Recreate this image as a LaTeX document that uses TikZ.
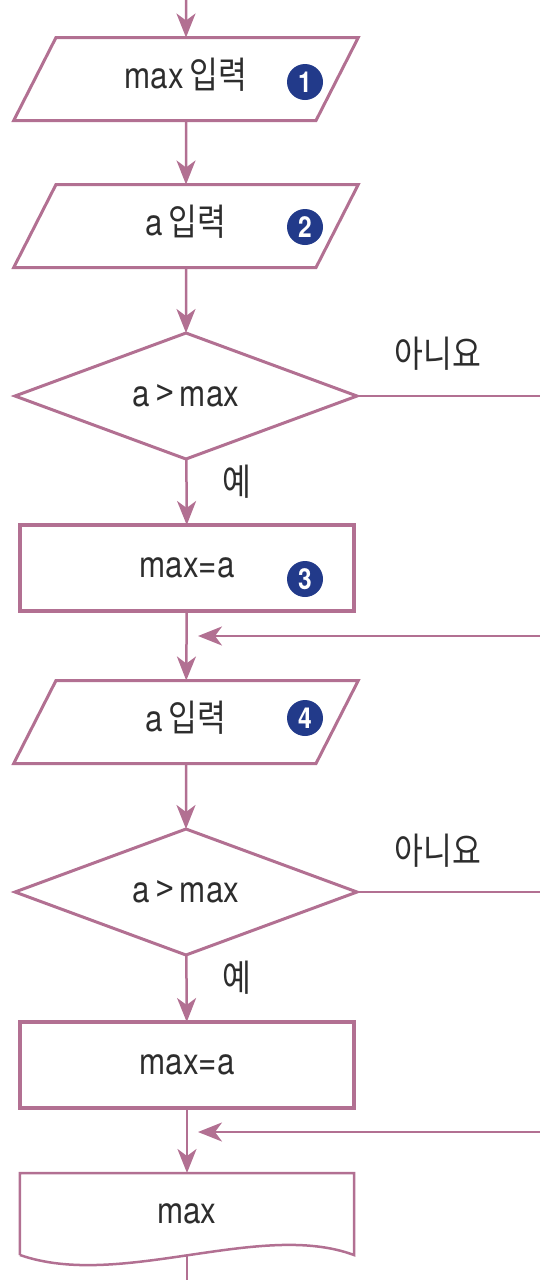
\documentclass[tikz,border=0pt]{standalone}
\usepackage{fontspec}
\setmainfont{TeX Gyre Heros}[FakeStretch=0.85]
\newfontfamily\krfont{Noto Sans CJK KR}[FakeStretch=0.85]
\newcommand{\hangul}[1]{{\krfont #1}}
\usetikzlibrary{shapes.geometric,arrows.meta}
\definecolor{flowline}{RGB}{178,112,146}
\definecolor{numblue}{RGB}{34,58,138}
\definecolor{flowtext}{RGB}{45,45,45}

\begin{document}
\begin{tikzpicture}[x=1bp,y=-1bp]
        \tikzset{every node/.style={font=\fontsize{37}{40}\selectfont,text=flowtext},
          inbox/.style={shape=trapezium,draw=flowline,line width=3bp,
            trapezium left angle=63,trapezium right angle=117,
            text width=256bp,align=center,text height=26bp,text depth=8bp,
            inner xsep=2bp,inner ysep=24.5bp,outer sep=0pt},
          condbox/.style={shape=diamond,draw=flowline,line width=3bp,aspect=2.71,
            minimum width=342bp,minimum height=126bp,inner sep=2pt,outer sep=0pt},
          setbox/.style={rectangle,draw=flowline,line width=4bp,
            minimum width=334bp,minimum height=86bp,outer sep=0pt},
          outbox/.style={rectangle,minimum width=334bp,minimum height=82bp,outer sep=0pt},
          numdot/.style={circle,fill=numblue,text=white,inner sep=0pt,minimum size=36bp,
            font=\fontsize{29}{29}\selectfont\bfseries},
          flow/.style={draw=flowline,line width=2.5bp,
            -{Stealth[length=24bp,width=19bp,inset=7bp]}},
          plain/.style={draw=flowline,line width=2.5bp}}
        \useasboundingbox (0,0) rectangle (540,1280);
        % boxes
        \node[inbox] (in1) at (186,79) {max\,\hangul{입력}};
        \node[numdot] (n1) at (305,82) {1};
        \node[inbox] (in2) at (186,226) {a\,\hangul{입력}};
        \node[numdot] (n2) at (305,227) {2};
        \node[condbox] (cond1) at (186,396) {a\,\hangul{>}\,max};
        \node[setbox] (set1) at (187,568) {max=a};
        \node[numdot] (n3) at (305,579) {3};
        \node[inbox] (in3) at (186,722) {a\,\hangul{입력}};
        \node[numdot] (n4) at (305,718) {4};
        \node[condbox] (cond2) at (186,892) {a\,\hangul{>}\,max};
        \node[setbox] (set2) at (187,1065) {max=a};
        \node[outbox] (out) at (187,1214) {max};
        \draw[flowline,line width=2.5bp] (out.south west) -- (out.north west)
          -- (out.north east) -- (out.south east)
          .. controls (260,1220) and (120,1290) .. (out.south west);
        % labels
        \node (no1) at (438,354) {\hangul{아니요}};
        \node (yes1) at (237,482) {\hangul{예}};
        \node (no2) at (438,851) {\hangul{아니요}};
        \node (yes2) at (237,978) {\hangul{예}};
        % connectors
        \coordinate (top) at (186,0);
        \coordinate (noend1) at (540,396);
        \coordinate (noin1) at (540,636);
        \coordinate (nojoin1) at (198,636);
        \coordinate (noend2) at (540,892);
        \coordinate (noin2) at (540,1132);
        \coordinate (nojoin2) at (198,1132);
        \coordinate (bottom) at (187,1280);
        \draw[flow] (top) -- (in1);
        \draw[flow] (in1) -- (in2);
        \draw[flow] (in2) -- (cond1);
        \draw[flow] (cond1) -- (set1);
        \draw[plain] (cond1.east) -- (noend1);
        \draw[flow] (noin1) -- (nojoin1);
        \draw[flow] (set1) -- (in3);
        \draw[flow] (in3) -- (cond2);
        \draw[flow] (cond2) -- (set2);
        \draw[plain] (cond2.east) -- (noend2);
        \draw[flow] (noin2) -- (nojoin2);
        \draw[flow] (set2) -- (out);
        \draw[plain] (out.south) -- (bottom);
\end{tikzpicture}
\end{document}
